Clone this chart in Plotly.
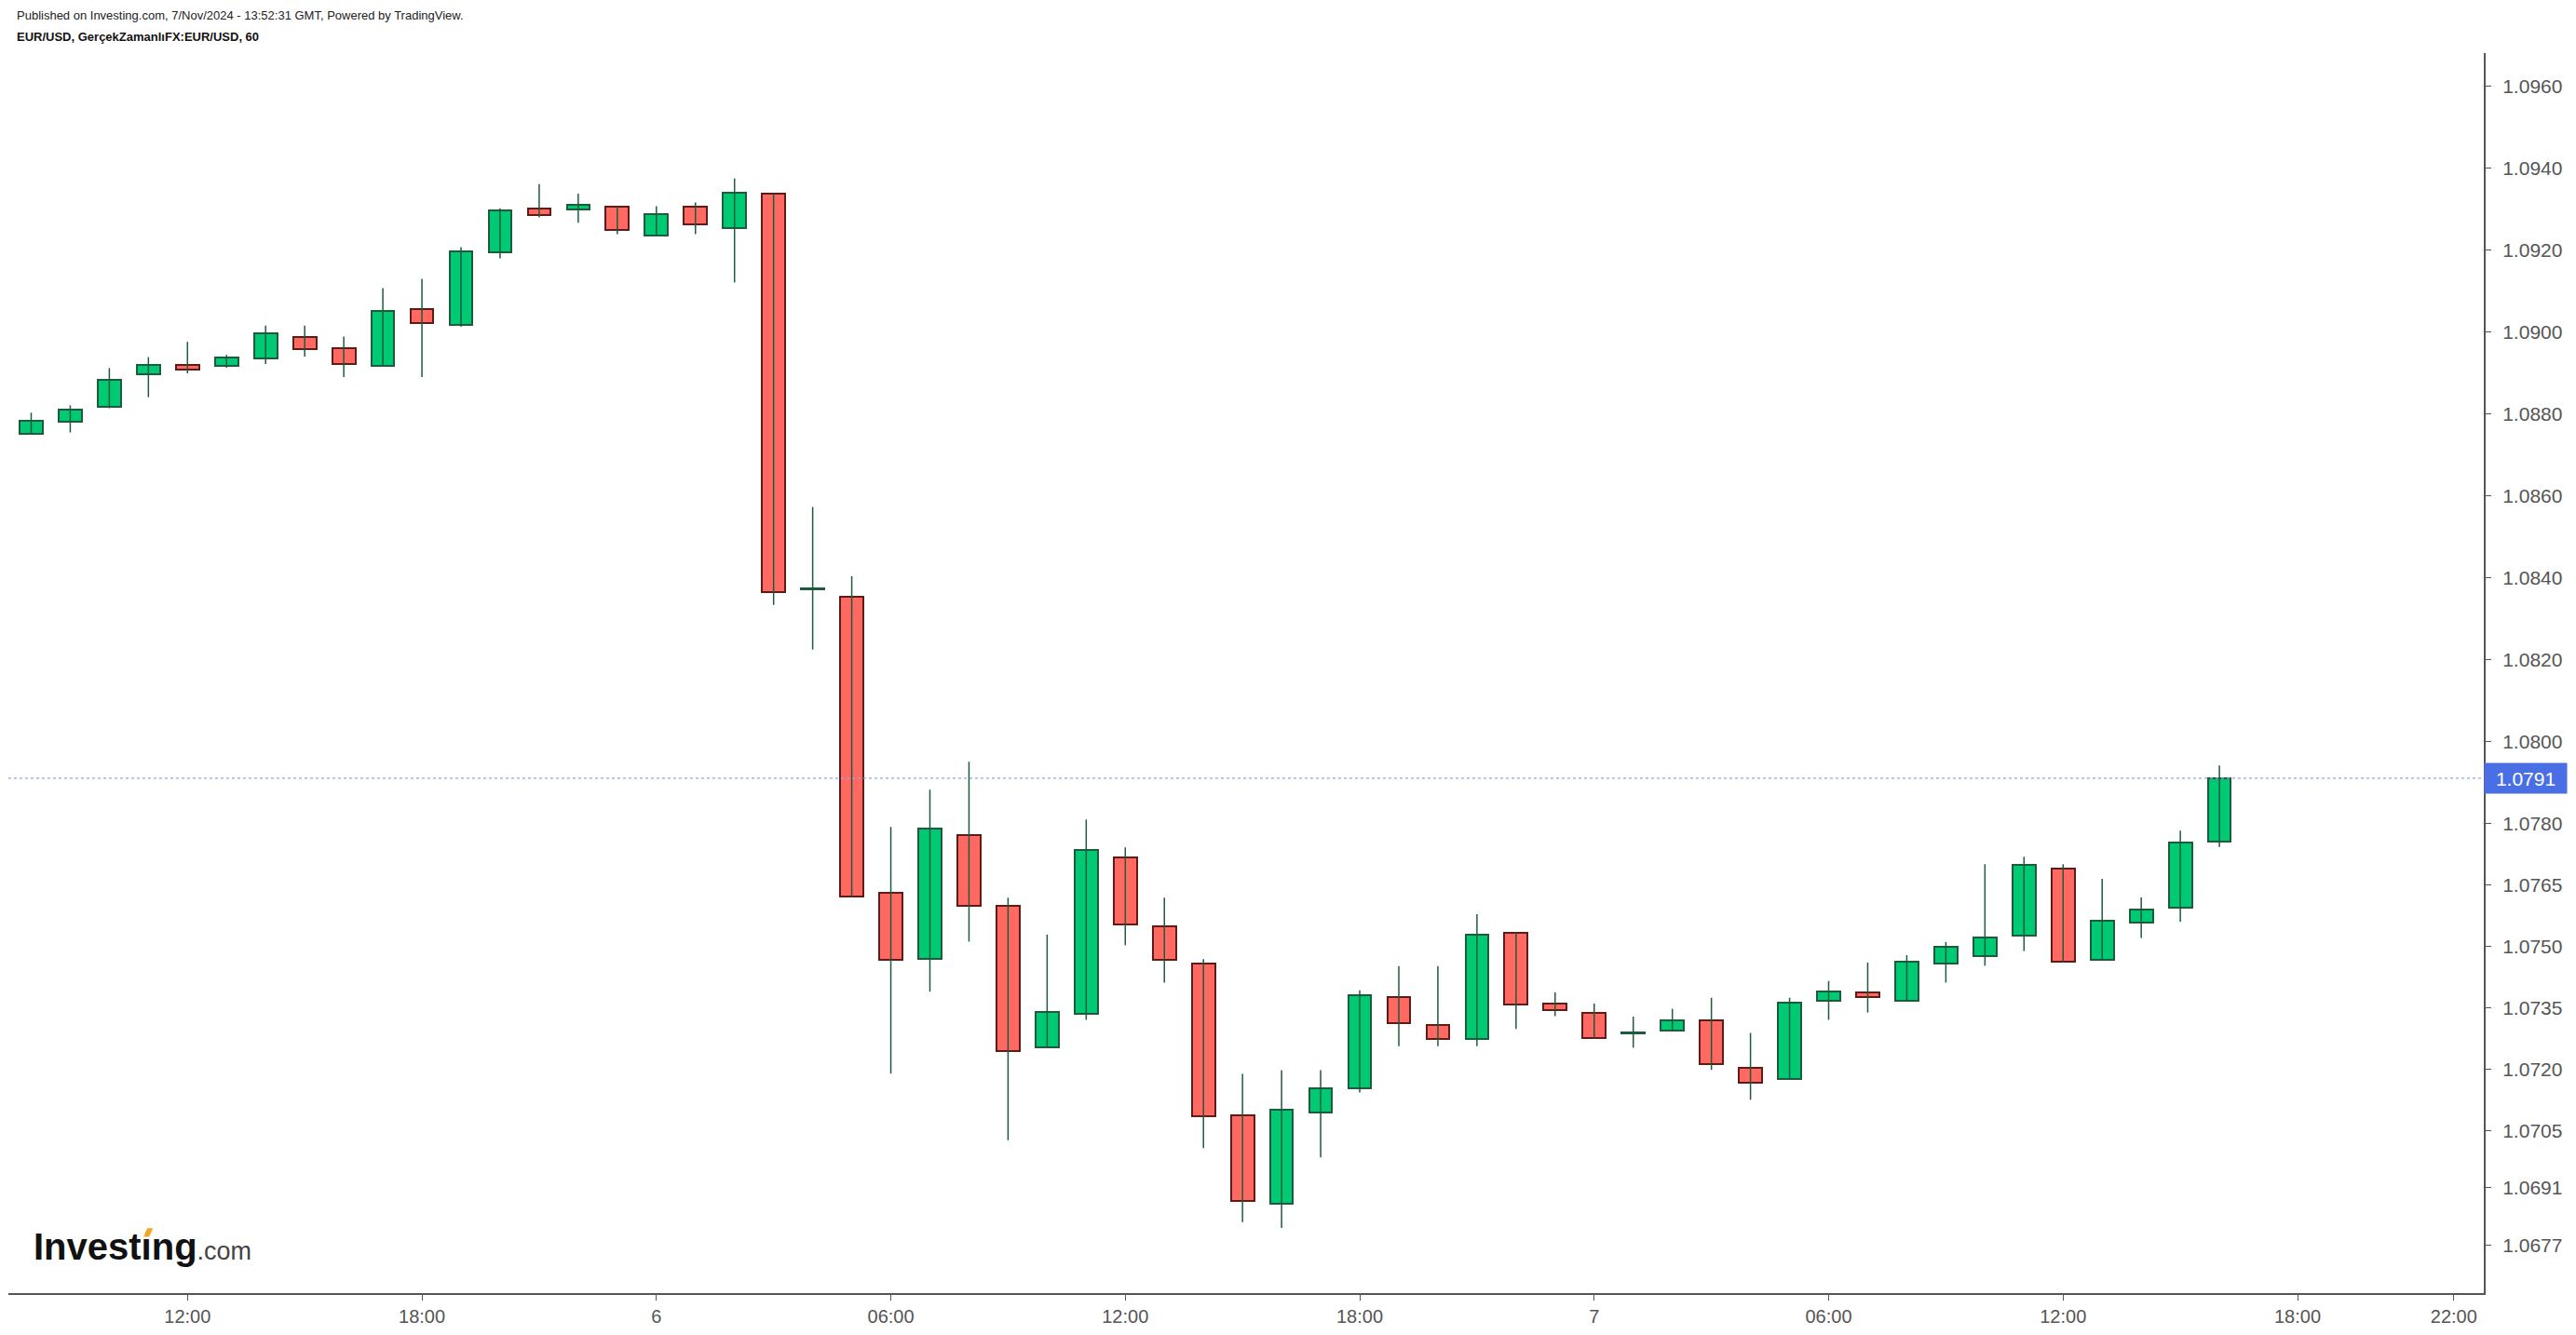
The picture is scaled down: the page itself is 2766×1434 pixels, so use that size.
import pandas as pd
import plotly.graph_objects as go

# EUR/USD hourly candles, 5 Nov 2024 08:00 -> 7 Nov 2024 16:00 (chart time)
opens = [1.08750, 1.08781, 1.08817, 1.08895, 1.08919, 1.08917, 1.08935, 1.08987, 1.08960, 1.08917,
         1.09055, 1.09017, 1.09194, 1.09300, 1.09298, 1.09304, 1.09235, 1.09304, 1.09253, 1.09336,
         1.08372, 1.08352, 1.07630, 1.07468, 1.07772, 1.07599, 1.07254, 1.07335, 1.07716, 1.07549,
         1.07458, 1.07087, 1.06872, 1.07095, 1.07154, 1.07376, 1.07308, 1.07273, 1.07532, 1.07359,
         1.07336, 1.07287, 1.07294, 1.07318, 1.07204, 1.07176, 1.07367, 1.07386, 1.07367, 1.07458,
         1.07476, 1.07525, 1.07690, 1.07467, 1.07557, 1.07594, 1.07756]
highs = [1.08802, 1.08820, 1.08911, 1.08938, 1.08975, 1.08943, 1.09015, 1.09015, 1.08988, 1.09106,
         1.09129, 1.09206, 1.09301, 1.09360, 1.09337, 1.09305, 1.09306, 1.09315, 1.09374, 1.09337,
         1.08572, 1.08403, 1.07791, 1.07882, 1.07950, 1.07618, 1.07528, 1.07809, 1.07741, 1.07618,
         1.07468, 1.07188, 1.07197, 1.07197, 1.07392, 1.07451, 1.07451, 1.07578, 1.07533, 1.07387,
         1.07360, 1.07328, 1.07347, 1.07374, 1.07288, 1.07374, 1.07415, 1.07460, 1.07478, 1.07510,
         1.07700, 1.07718, 1.07700, 1.07664, 1.07619, 1.07782, 1.07941]
lows = [1.08749, 1.08754, 1.08813, 1.08840, 1.08898, 1.08912, 1.08921, 1.08939, 1.08889, 1.08916,
        1.08889, 1.09012, 1.09179, 1.09279, 1.09266, 1.09238, 1.09234, 1.09238, 1.09120, 1.08333,
        1.08224, 1.07620, 1.07189, 1.07389, 1.07511, 1.07026, 1.07253, 1.07320, 1.07502, 1.07411,
        1.07007, 1.06826, 1.06812, 1.06984, 1.07143, 1.07256, 1.07256, 1.07256, 1.07298, 1.07329,
        1.07275, 1.07252, 1.07293, 1.07198, 1.07125, 1.07175, 1.07320, 1.07338, 1.07366, 1.07411,
        1.07452, 1.07488, 1.07461, 1.07466, 1.07520, 1.07560, 1.07742]
closes = [1.08783, 1.08810, 1.08882, 1.08919, 1.08908, 1.08937, 1.08996, 1.08958, 1.08922, 1.09050,
          1.09021, 1.09195, 1.09295, 1.09285, 1.09309, 1.09248, 1.09286, 1.09263, 1.09340, 1.08365,
          1.08374, 1.07621, 1.07467, 1.07788, 1.07598, 1.07245, 1.07340, 1.07735, 1.07553, 1.07466,
          1.07085, 1.06877, 1.07100, 1.07154, 1.07380, 1.07312, 1.07273, 1.07527, 1.07358, 1.07344,
          1.07276, 1.07289, 1.07318, 1.07213, 1.07167, 1.07363, 1.07390, 1.07376, 1.07463, 1.07499,
          1.07522, 1.07699, 1.07462, 1.07563, 1.07590, 1.07753, 1.07910]
times = pd.date_range("2024-11-05 08:00", periods=len(opens), freq="h")

last_price = 1.0791

y_ticks = [1.0960, 1.0940, 1.0920, 1.0900, 1.0880, 1.0860, 1.0840, 1.0820, 1.0800,
           1.0780, 1.0765, 1.0750, 1.0735, 1.0720, 1.0705, 1.0691, 1.0677]
x_ticks = ["2024-11-05 12:00", "2024-11-05 18:00", "2024-11-06 00:00", "2024-11-06 06:00",
           "2024-11-06 12:00", "2024-11-06 18:00", "2024-11-07 00:00", "2024-11-07 06:00",
           "2024-11-07 12:00", "2024-11-07 18:00", "2024-11-07 22:00"]
x_labels = ["12:00", "18:00", "6", "06:00", "12:00", "18:00", "7", "06:00", "12:00", "18:00", "22:00"]

UP_FILL, UP_EDGE = "#00c973", "#1e5a3c"
DN_FILL, DN_EDGE = "#ff6961", "#5e1b18"
AXIS = "#555555"
FONT = "Liberation Sans, Arial, sans-serif"

# wicks: one segment per candle, all drawn in the dark green
wx, wy = [], []
for t, lo, hi in zip(times, lows, highs):
    wx += [t, t, None]
    wy += [lo, hi, None]

up = [c >= o for o, c in zip(opens, closes)]

fig = go.Figure()
fig.add_trace(go.Scatter(x=wx, y=wy, mode="lines", line=dict(color=UP_EDGE, width=1.5),
                         hoverinfo="skip", showlegend=False))
fig.add_trace(go.Bar(
    x=times,
    y=[abs(c - o) for o, c in zip(opens, closes)],
    base=[min(o, c) for o, c in zip(opens, closes)],
    width=0.59 * 3600 * 1000,
    marker=dict(color=[UP_FILL if u else DN_FILL for u in up],
                line=dict(color=[UP_EDGE if u else DN_EDGE for u in up], width=2)),
    showlegend=False,
))

# last price line + label on the price scale
fig.add_shape(type="line", xref="paper", x0=0, x1=1, yref="y", y0=last_price, y1=last_price,
              line=dict(color="#8ea4f2", width=1.2, dash="dot"))
fig.add_annotation(xref="paper", x=1, xanchor="left", yref="y", y=last_price, yanchor="middle",
                   text=f"{last_price:.4f}", showarrow=False, bgcolor="#4a6fe4",
                   width=84, height=28, borderpad=2, font=dict(family=FONT, size=21, color="white"))

fig.add_annotation(xref="paper", x=0.0026, xanchor="left", yref="paper", y=1.0307, yanchor="middle",
                   text="Published on Investing.com, 7/Nov/2024 - 13:52:31 GMT, Powered by TradingView.",
                   showarrow=False, font=dict(family=FONT, size=13, color="#222"))
fig.add_annotation(xref="paper", x=0.0026, xanchor="left", yref="paper", y=1.0130, yanchor="middle",
                   text="<b>EUR/USD, GerçekZamanlıFX:EUR/USD, 60</b>",
                   showarrow=False, font=dict(family=FONT, size=13, color="#111"))

# watermark logo (dotless i, with the orange dot drawn as a shape)
fig.add_annotation(xref="paper", x=0.0094, xanchor="left", yref="paper", y=0.0375, yanchor="middle",
                   text="<b>Investıng</b><span style='font-size:27px;color:#444'>.com</span>",
                   showarrow=False, font=dict(family=FONT, size=40, color="#111"))
fig.add_shape(type="path", xref="paper", yref="paper", line=dict(width=0), fillcolor="#f5a623",
              path="M 0.0546 0.0454 L 0.0561 0.0524 L 0.0584 0.0524 L 0.0569 0.0454 Z")

fig.update_layout(
    width=2766, height=1434,
    margin=dict(l=9, r=99, t=57, b=42),
    paper_bgcolor="white", plot_bgcolor="white",
    showlegend=False, bargap=0,
    font=dict(family=FONT, color=AXIS),
    xaxis=dict(type="date", range=["2024-11-05 07:25", "2024-11-07 22:46"],
               tickvals=x_ticks, ticktext=x_labels, showgrid=False, zeroline=False,
               showline=True, linecolor=AXIS, linewidth=2, ticks="outside", ticklen=6,
               tickcolor=AXIS, tickfont=dict(size=20, color=AXIS)),
    yaxis=dict(side="right", range=[1.06653, 1.09680], tickvals=y_ticks,
               ticktext=[f"{v:.4f}" for v in y_ticks], showgrid=False, zeroline=False,
               showline=True, linecolor=AXIS, linewidth=2, ticks="outside", ticklen=6,
               tickcolor=AXIS, ticklabelstandoff=8, tickfont=dict(size=21, color=AXIS)),
)

fig.write_html("out.html", config={"displayModeBar": False},
               post_script="document.body.style.margin = '0';")
